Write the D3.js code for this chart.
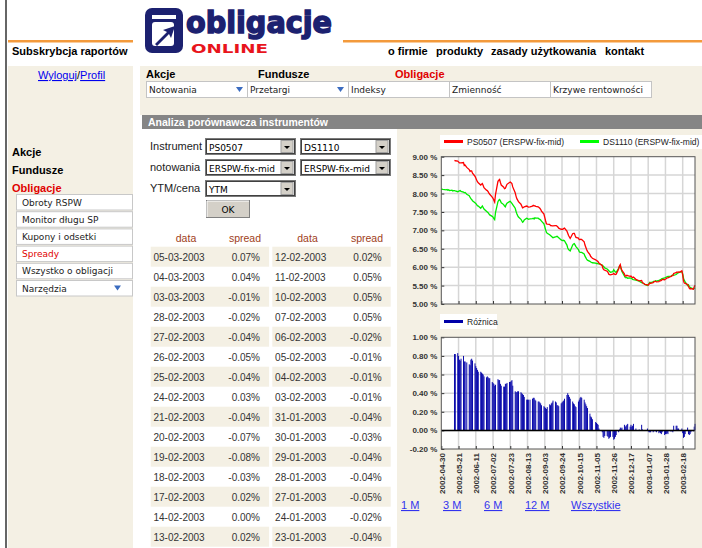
<!DOCTYPE html>
<html><head><meta charset="utf-8">
<script src="https://cdn.jsdelivr.net/npm/d3@7"></script>
<style>
html,body{margin:0;padding:0;background:#fff;overflow:hidden}
svg{display:block}
</style></head><body>
<svg id="page" width="702" height="548"></svg>
<script>
// ---------------- DATA ----------------
const startDate = "2002-04-30";
const endDate = "2003-03-05";
// DS1110 (ERSPW-fix-mid) YTM, one value per weekday from startDate (null = no quote)
const ds1110 = [
  8.12, null, 8.11, null,
  8.10, 8.11, 8.09, 8.10, 8.08,
  8.09, 8.07, 8.08, 8.08, 8.07,
  8.05, 8.06, 8.07, 8.08, 8.06,
  8.04, 8.02, 8.03, null, 7.98,
  7.94, 7.90, 7.86, 7.84, 7.80,
  7.75, 7.73, 7.70, 7.67, 7.66,
  7.60, 7.63, 7.66, 7.62, 7.58,
  7.52, 7.50, 7.48, 7.45, 7.42,
  7.38, 7.36, 7.32, 7.29, 7.48,
  7.78, 7.82, 7.84, 7.80, 7.75,
  7.70, 7.66, 7.64, 7.70, 7.74,
  7.78, 7.79, 7.76, 7.73, 7.70,
  7.60, 7.52, 7.45, 7.40, 7.36,
  7.30, 7.26, 7.22, 7.24, 7.28,
  7.33, 7.32, 7.30, null, 7.31,
  7.32, 7.33, 7.31, 7.34, 7.33,
  7.33, 7.31, 7.30, 7.28, 7.25,
  7.18, 7.10, 7.02, 6.95, 6.92,
  6.88, 6.86, 6.84, 6.82, 6.80,
  6.82, 6.83, 6.84, 6.82, 6.80,
  6.74, 6.73, 6.72, 6.73, 6.72,
  6.60, 6.52, 6.48, 6.46, 6.44,
  6.60, 6.63, 6.64, 6.60, 6.56,
  6.48, 6.42, 6.40, 6.40, 6.40,
  6.36, 6.30, 6.26, 6.22, 6.19,
  6.16, 6.14, 6.13, 6.12, null,
  6.11, 6.10, 6.10, 6.09, 6.09,
  null, 6.06, 6.03, 6.01, 5.98,
  5.95, 5.93, 5.90, 5.88, 5.86,
  5.88, 5.93, 5.90, 5.87, 5.86,
  5.97, 6.02, 6.04, 5.95, 5.88,
  5.76, 5.72, 5.71, 5.72, 5.70,
  5.71, 5.70, 5.69, 5.67, 5.66,
  5.65, null, null, null, 5.62,
  5.58, 5.57, null, 5.55, 5.53,
  5.50, 5.52, 5.56, 5.59, 5.58,
  5.60, 5.62, 5.61, 5.63, 5.62,
  5.64, 5.65, 5.66, 5.68, 5.69,
  5.71, 5.72, 5.73, 5.74, 5.75,
  5.75, 5.76, 5.78, 5.79, 5.78,
  5.80, 5.82, 5.84, 5.85, 5.86,
  5.88, 5.82, 5.70, 5.64, 5.60,
  5.50, 5.52, 5.48, 5.45, 5.44,
  5.41, 5.42, 5.44
];
// Różnica = PS0507 - DS1110, same weekday grid
const roznica = [
  null, null, null, null,
  null, null, null, null, null,
  null, null, null, 0.82, 0.82,
  0.83, 0.80, 0.76, 0.75, 0.77,
  0.80, 0.74, 0.74, null, 0.73,
  0.71, 0.70, 0.76, 0.77, 0.75,
  0.72, 0.69, 0.67, 0.65, 0.63,
  0.63, 0.62, 0.61, 0.60, 0.58,
  0.57, 0.58, 0.57, 0.56, 0.56,
  0.52, 0.51, 0.50, 0.48, 0.49,
  0.55, 0.54, 0.54, 0.50, 0.48,
  0.47, 0.47, 0.50, 0.50, 0.51,
  0.52, 0.52, 0.53, 0.54, 0.48,
  0.42, 0.41, 0.41, 0.42, 0.42,
  0.41, 0.40, 0.39, 0.38, 0.36,
  0.33, 0.33, 0.33, null, 0.33,
  0.34, 0.35, 0.35, 0.33, 0.32,
  0.31, 0.31, 0.30, 0.29, 0.27,
  0.26, 0.25, 0.24, 0.23, 0.25,
  0.28, 0.27, 0.29, 0.30, 0.32,
  0.31, 0.30, 0.27, 0.27, 0.26,
  0.29, 0.30, 0.31, 0.32, 0.34,
  0.38, 0.40, 0.38, 0.36, 0.34,
  0.31, 0.29, 0.28, 0.26, 0.25,
  0.31, 0.33, 0.35, 0.36, 0.35,
  0.33, 0.30, 0.28, 0.26, 0.24,
  0.18, 0.15, 0.14, 0.12, null,
  0.09, 0.08, 0.07, 0.06, 0.02,
  null, -0.02, -0.07, -0.08, -0.06,
  -0.06, -0.07, -0.09, -0.08, -0.07,
  -0.07, -0.10, -0.09, -0.07, -0.05,
  -0.02, 0.01, 0.03, 0.02, 0.03,
  0.06, 0.04, 0.05, 0.06, 0.07,
  0.04, 0.06, 0.04, 0.05, 0.07,
  0.02, null, null, null, 0.01,
  0.06, 0.01, null, 0.00, 0.00,
  0.02, -0.01, -0.02, -0.02, -0.02,
  -0.02, -0.01, 0.00, -0.01, -0.02,
  -0.03, -0.02, -0.03, -0.04, -0.02,
  -0.05, -0.04, -0.04, -0.03, -0.04,
  -0.01, -0.01, -0.01, -0.02, 0.05,
  0.05, 0.05, 0.02, 0.02, 0.00,
  0.02, -0.03, -0.08, -0.07, -0.04,
  0.03, -0.04, -0.05, -0.04, -0.02,
  -0.01, 0.04, 0.07
];
const xTickLabels = ["2002-04-30","2002-05-21","2002-06-11","2002-07-02","2002-07-23","2002-08-13",
  "2002-09-03","2002-09-24","2002-10-15","2002-11-05","2002-11-26","2002-12-17","2003-01-07",
  "2003-01-28","2003-02-18"];
const topTicks = [5.0, 5.5, 6.0, 6.5, 7.0, 7.5, 8.0, 8.5, 9.0];
const bottomTicks = [-0.2, 0.0, 0.2, 0.4, 0.6, 0.8, 1.0];
const seriesNames = ["PS0507 (ERSPW-fix-mid)", "DS1110 (ERSPW-fix-mid)", "Różnica"];
const topMenu = ["o firmie", "produkty", "zasady użytkowania", "kontakt"];
const sections = ["Akcje", "Fundusze", "Obligacje"];
const tabs = ["Notowania", "Przetargi", "Indeksy", "Zmienność", "Krzywe rentowności"];
const sideMenu = ["Obroty RSPW", "Monitor długu SP", "Kupony i odsetki", "Spready", "Wszystko o obligacji", "Narzędzia"];
const rangeLinks = ["1 M", "3 M", "6 M", "12 M", "Wszystkie"];

// ---------------- DRAW ----------------
const svg = d3.select("#page");
const BEIGE = "#f4f0e4", NAVY = "#1c2170", ORANGE = "#f39a3c", RED = "#e00000";
const SANS = "'Liberation Sans', Arial, sans-serif", VER = "'DejaVu Sans', Verdana, sans-serif";
function txt(x, y, s, o = {}) {
  const t = svg.append("text").attr("x", x).attr("y", y).text(s)
    .attr("font-size", o.size || 11).attr("fill", o.fill || "#000")
    .attr("font-weight", o.weight || "normal").attr("font-family", o.family || SANS);
  if (o.anchor) t.attr("text-anchor", o.anchor);
  if (o.underline) t.attr("text-decoration", "underline");
  if (o.len) t.attr("textLength", o.len).attr("lengthAdjust", "spacingAndGlyphs");
  return t;
}
function rect(x, y, w, h, fill, stroke) {
  const r = svg.append("rect").attr("x", x).attr("y", y).attr("width", w).attr("height", h).attr("fill", fill);
  if (stroke) r.attr("stroke", stroke).attr("stroke-width", 1);
  return r;
}
function tri(x, y, fill) {
  svg.append("path").attr("d", `M${x},${y}L${x + 7},${y}L${x + 3.5},${y + 5}Z`).attr("fill", fill);
}

// backgrounds
rect(5, 0, 2, 548, "#666");
rect(8, 66, 125, 482, BEIGE);
rect(140, 66, 562, 49, BEIGE);
rect(142, 115, 560, 14, "#858585");
rect(397, 129, 305, 419, BEIGE);
rect(8, 40, 125, 2.5, ORANGE);
rect(343, 40, 359, 2.5, ORANGE);

// logo
svg.append("rect").attr("x", 145).attr("y", 8).attr("width", 38).attr("height", 45).attr("rx", 7).attr("fill", NAVY);
svg.append("rect").attr("x", 152).attr("y", 22).attr("width", 22).attr("height", 24).attr("rx", 3).attr("fill", "#fff");
svg.append("rect").attr("x", 152).attr("y", 15).attr("width", 24).attr("height", 4).attr("fill", "#fff");
svg.append("path").attr("d", "M155,44 L167,32 L163,30 L175,26 L171,38 L169,34 L157,46 Z").attr("fill", NAVY);
txt(186, 33, "obligacje", { size: 31, weight: "bold", fill: NAVY, family: "'Liberation Sans Narrow', 'DejaVu Sans Condensed', sans-serif", len: 146 })
  .attr("stroke", NAVY).attr("stroke-width", 1.4);
txt(191, 53, "ONLINE", { size: 13, weight: "bold", fill: "#e8141c", family: VER, len: 77 });

txt(12, 55, "Subskrybcja raportów", { weight: "bold" });
const menuX = [388, 436, 491, 605];
topMenu.forEach((m, i) => txt(menuX[i], 55, m, { weight: "bold" }));

// top-left links
const lk = svg.append("text").attr("x", 38).attr("y", 79).attr("font-size", 11).attr("font-family", SANS);
lk.append("tspan").text("Wyloguj").attr("fill", "#0000ee").attr("text-decoration", "underline");
lk.append("tspan").text("/").attr("fill", "#000");
lk.append("tspan").text("Profil").attr("fill", "#0000ee").attr("text-decoration", "underline");

// section headers
const secX = [146, 258, 395];
sections.forEach((s, i) => txt(secX[i], 78, s, { weight: "bold", fill: i === 2 ? RED : "#000" }));
tabs.forEach((t, i) => {
  rect(146.5 + i * 101, 81.5, 101, 16, "#fff", "#c4c4c4");
  txt(149 + i * 101, 93, t, { size: 9, family: VER, fill: "#222" });
  if (i < 2) tri(236 + i * 101, 87, "#3b6cc0");
});
txt(148, 126, "Analiza porównawcza instrumentów", { weight: "bold", fill: "#fff", len: 180 });

// left menu
sections.forEach((s, i) => txt(12, 156 + i * 18, s, { weight: "bold", fill: i === 2 ? RED : "#000" }));
sideMenu.forEach((s, i) => {
  const y = 194.5 + i * 17.2;
  rect(16.5, y, 116, 15.5, "#fff", "#c8c8c8");
  txt(22, y + 11, s, { size: 9, family: VER, fill: s === "Spready" ? RED : "#222" });
  if (s === "Narzędzia") tri(114, y + 5, "#3b6cc0");
});

// form
function select(x, y, w, label) {
  rect(x + 0.5, y + 0.5, w, 16, "#fff", "#7a7a7a");
  rect(x + 1.5, y + 1.5, w - 2, 14, "none", "#404040");
  txt(x + 4, y + 12.5, label, { size: 9, family: VER, fill: "#000" });
  rect(x + w - 14, y + 2.5, 12, 12, "#d4d0c8", "#a0a0a0");
  svg.append("path").attr("d", `M${x + w - 11},${y + 8}L${x + w - 5},${y + 8}L${x + w - 8},${y + 11}Z`).attr("fill", "#000");
}
txt(150, 150, "Instrument", { fill: "#222" });
txt(150, 171, "notowania", { fill: "#222" });
txt(150, 192, "YTM/cena", { fill: "#222" });
select(205, 138, 90, "PS0507");
select(300, 138, 90, "DS1110");
select(205, 159, 90, "ERSPW-fix-mid");
select(300, 159, 90, "ERSPW-fix-mid");
select(205, 180, 90, "YTM");
rect(206.5, 200.5, 43, 17, "#d4d0c8", "#808080");
svg.append("path").attr("d", "M207,217 L207,201 L249,201").attr("stroke", "#fff").attr("fill", "none");
txt(228, 213, "OK", { size: 9, family: VER, anchor: "middle" });

// ---- data rows
const parse = d3.utcParse("%Y-%m-%d");
const days = d3.utcDay.range(parse(startDate), d3.utcDay.offset(parse(endDate), 1))
  .filter(d => { const w = d.getUTCDay(); return w > 0 && w < 6; });
const rows = days.map((d, i) => ({ date: d, g: ds1110[i], s: roznica[i] }));
rows.forEach(r => { r.r = (r.g != null && r.s != null) ? r.g + r.s : null; });

// table (last 30 quotes, newest first)
const fmtDate = d3.utcFormat("%d-%m-%Y");
const tableRows = rows.filter(r => r.s != null).slice(-30).reverse();
const HDR = "#a0401a";
[["data", 186], ["spread", 245], ["data", 307.5], ["spread", 367]].forEach(([h, x]) =>
  txt(x, 241.5, h, { size: 10.5, fill: HDR, anchor: "middle" }));
tableRows.forEach((r, k) => {
  const col = k < 15 ? 0 : 1, i = k % 15;
  const top = 246.7 + i * 20;
  const bx = col === 0 ? 150.7 : 272.3;
  if (i % 2 === 0) rect(bx, top, 118.4, 20, BEIGE);
  txt(bx + 2.8, top + 14, fmtDate(r.date), { size: 10, fill: "#333" });
  txt(bx + (col === 0 ? 109.3 : 109.4), top + 14, r.s.toFixed(2) + "%", { size: 10, fill: "#333", anchor: "end" });
});

// ---- charts
const X0 = 441.3, X1 = 695;
const x = d3.scaleUtc().domain([parse(startDate), parse(endDate)]).range([X0, X1]);
const tickDates = xTickLabels.map(parse);

function plotFrame(y, ticks, top, bottom) {
  rect(X0, top, X1 - X0, bottom - top, "#fff");
  const g = svg.append("g");
  ticks.forEach(t => {
    const yy = y(t);
    if (yy > top + 1 && yy < bottom - 1)
      g.append("line").attr("x1", X0).attr("x2", X1).attr("y1", yy).attr("y2", yy).attr("stroke", "#d6d6d6").attr("stroke-width", 1.5);
  });
  tickDates.forEach(d => {
    const xx = x(d);
    if (xx > X0 + 1)
      g.append("line").attr("x1", xx).attr("x2", xx).attr("y1", top).attr("y2", bottom).attr("stroke", "#d6d6d6").attr("stroke-width", 1.5);
  });
  svg.append("g").attr("transform", `translate(${X0},0)`)
    .call(d3.axisRight(y).tickValues(ticks).tickSize(3).tickFormat(""))
    .call(a => a.select(".domain").remove()).selectAll("line").attr("stroke", "#333");
  svg.append("g").attr("transform", `translate(0,${bottom})`)
    .call(d3.axisTop(x).tickValues(tickDates).tickSize(3).tickFormat(""))
    .call(a => a.select(".domain").remove()).selectAll("line").attr("stroke", "#333");
  svg.append("g").attr("transform", `translate(${X0},0)`)
    .call(d3.axisLeft(y).tickValues(ticks).tickSize(0).tickPadding(4).tickFormat(v => v.toFixed(2) + " %"))
    .call(a => a.select(".domain").remove())
    .selectAll("text").attr("font-family", SANS).attr("font-size", 8).attr("font-weight", "bold").attr("fill", "#333");
}
function plotBorder(top, bottom) {
  rect(X0, top, X1 - X0, bottom - top, "none", "#555");
}

// upper chart
rect(440, 135, 262, 14, "#fff");
svg.append("line").attr("x1", 444).attr("x2", 463).attr("y1", 141.5).attr("y2", 141.5).attr("stroke", "#ff0000").attr("stroke-width", 3);
txt(467, 145, seriesNames[0], { size: 8.5, fill: "#222" });
svg.append("line").attr("x1", 580).attr("x2", 599).attr("y1", 141.5).attr("y2", 141.5).attr("stroke", "#00ff00").attr("stroke-width", 3);
txt(603, 145, seriesNames[1], { size: 8.5, fill: "#222" });

const T0 = 156.7, T1 = 304;
const yTop = d3.scaleLinear().domain([5, 9]).range([T1, T0]);
plotFrame(yTop, topTicks, T0, T1);
const lineG = d3.line().x(r => x(r.date)).y(r => yTop(r.g));
const lineR = d3.line().x(r => x(r.date)).y(r => yTop(r.r));
svg.append("path").datum(rows.filter(r => r.g != null)).attr("d", lineG)
  .attr("fill", "none").attr("stroke", "#00ee00").attr("stroke-width", 1.3);
svg.append("path").datum(rows.filter(r => r.r != null)).attr("d", lineR)
  .attr("fill", "none").attr("stroke", "#ff0000").attr("stroke-width", 1.3);
plotBorder(T0, T1);

// lower chart
rect(440, 314, 57, 15, "#fff");
svg.append("line").attr("x1", 444).attr("x2", 463).attr("y1", 321.5).attr("y2", 321.5).attr("stroke", "#0000a8").attr("stroke-width", 3);
txt(467, 325, seriesNames[2], { size: 8.5, fill: "#222" });

const B0 = 337.3, B1 = 449;
const yBot = d3.scaleLinear().domain([-0.2, 1.0]).range([B1, B0]);
plotFrame(yBot, bottomTicks, B0, B1);
svg.append("g").selectAll("rect").data(rows.filter(r => r.s != null && r.s !== 0)).join("rect")
  .attr("x", r => x(r.date) - 0.45).attr("width", 0.95)
  .attr("y", r => yBot(Math.max(0, r.s))).attr("height", r => Math.abs(yBot(r.s) - yBot(0)))
  .attr("fill", "#0000a8");
svg.append("line").attr("x1", X0).attr("x2", X1).attr("y1", yBot(0)).attr("y2", yBot(0)).attr("stroke", "#000").attr("stroke-width", 1.5);
plotBorder(B0, B1);
svg.append("g").attr("transform", `translate(0,${B1})`)
  .call(d3.axisBottom(x).tickValues(tickDates).tickSize(0).tickFormat(d3.utcFormat("%Y-%m-%d")))
  .call(a => a.select(".domain").remove())
  .selectAll("text").attr("transform", "rotate(-90)").attr("x", -4).attr("y", 0).attr("dy", "0.35em")
  .attr("text-anchor", "end").attr("font-family", SANS).attr("font-size", 8).attr("font-weight", "bold").attr("fill", "#333");

// range links
const linkX = [401, 443, 484, 525, 571];
rangeLinks.forEach((l, i) => txt(linkX[i], 509, l, { fill: "#3333ee", underline: true }));
</script></body></html>
